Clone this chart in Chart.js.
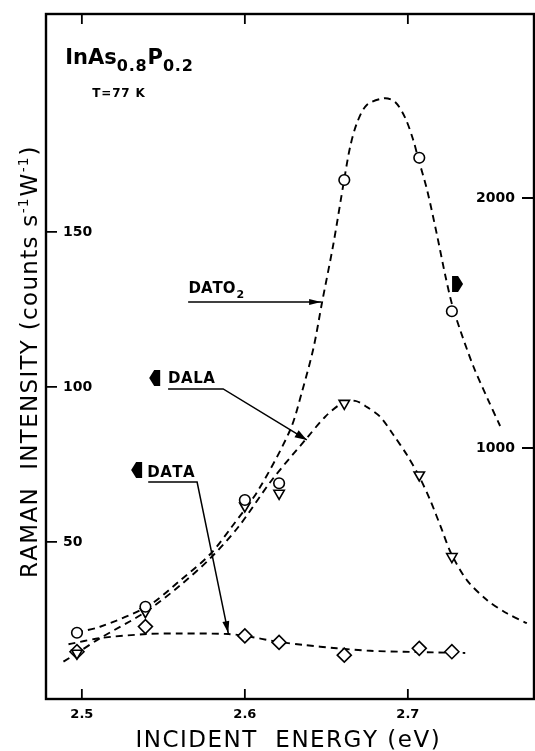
<!DOCTYPE html>
<html>
<head>
<meta charset="utf-8">
<title>InAs0.8P0.2 Raman intensity vs incident energy</title>
<script src="https://cdn.jsdelivr.net/npm/chart.js@4.4.1/dist/chart.umd.min.js"></script>
<style>
  html, body { margin: 0; padding: 0; background: #fff; }
  canvas { display: block; }
</style>
</head>
<body>
<canvas id="ramanChart" width="535" height="751"></canvas>
<script>
/*---- measured points : incident energy (eV) ----*/
var energy   = [2.497, 2.539, 2.600, 2.621, 2.661, 2.707, 2.727];
var dato2Pts = [261, 365, 792, 859, 2072, 2161, 1547];      // right axis
var dalaPts  = [14.1, 27.5, 61.6, 65.7, 94.7, 71.6, 45.3];  // left axis
var dataPts  = [14.6, 22.7, 19.7, 17.6, 13.5, 15.7, 14.6];  // left axis

/*---- hand drawn fit curves ----*/
var dato2FitE = [2.4965, 2.5112, 2.5399, 2.5603, 2.5787, 2.5920, 2.6083, 2.6278, 2.6350, 2.6421, 2.6474, 2.6542, 2.6609, 2.6646, 2.6687, 2.6748, 2.6856, 2.6922, 2.6984, 2.7033, 2.7063, 2.7118, 2.7180, 2.7229, 2.7272, 2.7321, 2.7401, 2.7487, 2.7566];
var dato2FitV = [262, 285, 365, 470, 575, 685, 832, 1072, 1224, 1400, 1584, 1812, 2072, 2205, 2299, 2372, 2399, 2384, 2320, 2232, 2160, 2032, 1848, 1692, 1572, 1472, 1328, 1200, 1088];
var dalaFitE = [2.4887, 2.4969, 2.5113, 2.5393, 2.5603, 2.5787, 2.5961, 2.6166, 2.6380, 2.6493, 2.6595, 2.6677, 2.6750, 2.6830, 2.6912, 2.6994, 2.7065, 2.7137, 2.7209, 2.7264, 2.7362, 2.7485, 2.7607, 2.7730];
var dalaFitV = [11.4, 14.1, 19.0, 27.5, 36.0, 44.7, 54.9, 70.0, 83.5, 90.4, 94.7, 95.5, 93.5, 90.4, 84.5, 78.1, 71.6, 63.5, 53.9, 46.5, 37.7, 31.3, 27.0, 23.8];
var dataFitE = [2.4918, 2.5112, 2.5399, 2.5603, 2.5898, 2.6000, 2.6206, 2.6360, 2.6564, 2.6769, 2.6973, 2.7157, 2.7352];
var dataFitV = [17.0, 19.0, 20.3, 20.5, 20.3, 19.7, 17.8, 16.8, 15.7, 14.9, 14.6, 14.4, 14.2];

/*---- tick labels ----*/
var xTicks  = [2.5, 2.6, 2.7];
var yTicks  = [50, 100, 150];
var y2Ticks = [1000, 2000];

var FONT = '"DejaVu Sans", "Liberation Sans", sans-serif';
Chart.defaults.font.family = FONT;
Chart.defaults.color = '#000';

function pairs(xs, ys) {
    return xs.map(function(x, i) { return {x: x, y: ys[i]}; });
}

/*---- draws a string letter by letter with extra spacing, returns end x ----*/
function spaced(ctx, str, x, y, gap) {
    for (var i = 0; i < str.length; i++) {
        ctx.fillText(str[i], x, y);
        x += ctx.measureText(str[i]).width + gap;
    }
    return x;
}
function spacedWidth(ctx, str, gap) {
    var w = 0;
    for (var i = 0; i < str.length; i++)
        w += ctx.measureText(str[i]).width + gap;
    return w - gap;
}

function arrowHead(ctx, x0, y0, x1, y1, len, half) {
    var a = Math.atan2(y1 - y0, x1 - x0);
    ctx.beginPath();
    ctx.moveTo(x1, y1);
    ctx.lineTo(x1 - len * Math.cos(a) + half * Math.sin(a), y1 - len * Math.sin(a) - half * Math.cos(a));
    ctx.lineTo(x1 - len * Math.cos(a) - half * Math.sin(a), y1 - len * Math.sin(a) + half * Math.cos(a));
    ctx.closePath();
    ctx.fill();
}

function polyArrow(ctx, pts, len, half) {
    ctx.beginPath();
    ctx.moveTo(pts[0][0], pts[0][1]);
    for (var i = 1; i < pts.length; i++) ctx.lineTo(pts[i][0], pts[i][1]);
    ctx.stroke();
    var n = pts.length;
    arrowHead(ctx, pts[n - 2][0], pts[n - 2][1], pts[n - 1][0], pts[n - 1][1], len, half);
}

/*---- the fat black pointer that says which axis a curve belongs to ----*/
function pointer(ctx, cx, cy, dir) {
    ctx.beginPath();
    ctx.moveTo(cx + dir * 6, cy);
    ctx.lineTo(cx + dir * 1, cy - 8);
    ctx.lineTo(cx - dir * 5, cy - 8);
    ctx.lineTo(cx - dir * 5, cy + 8);
    ctx.lineTo(cx + dir * 1, cy + 8);
    ctx.closePath();
    ctx.fill();
}

/*---- frame, inward ticks, titles and labels ----*/
var decorations = {
    id: 'decorations',
    afterDraw: function(chart) {
        var ctx = chart.ctx, a = chart.chartArea;
        var sx = chart.scales.x, sy = chart.scales.y, sy2 = chart.scales.y2;
        function P(e, v) { return [sx.getPixelForValue(e), sy.getPixelForValue(v)]; }

        ctx.save();
        ctx.strokeStyle = '#000';
        ctx.fillStyle = '#000';

        // frame
        ctx.lineWidth = 2.4;
        ctx.strokeRect(a.left, a.top, a.right - a.left - 1, a.bottom - a.top);

        // ticks pointing into the plot
        ctx.lineWidth = 1.8;
        ctx.beginPath();
        xTicks.forEach(function(v) {
            var px = sx.getPixelForValue(v);
            ctx.moveTo(px, a.bottom); ctx.lineTo(px, a.bottom - 10);
            ctx.moveTo(px, a.top);    ctx.lineTo(px, a.top + 10);
        });
        yTicks.forEach(function(v) {
            var py = sy.getPixelForValue(v);
            ctx.moveTo(a.left, py); ctx.lineTo(a.left + 11, py);
        });
        y2Ticks.forEach(function(v) {
            var py = sy2.getPixelForValue(v);
            ctx.moveTo(a.right, py); ctx.lineTo(a.right - 13, py);
        });
        ctx.stroke();

        // right axis labels, inside the frame
        ctx.font = 'bold 14px ' + FONT;
        ctx.textAlign = 'right';
        ctx.textBaseline = 'middle';
        y2Ticks.forEach(function(v) {
            ctx.fillText(String(v), a.right - 20, sy2.getPixelForValue(v));
        });

        ctx.textAlign = 'left';
        ctx.textBaseline = 'alphabetic';

        // x title
        ctx.font = '23px ' + FONT;
        var xt = 'INCIDENT  ENERGY (eV)';
        spaced(ctx, xt, (a.left + a.right) / 2 - 3 - spacedWidth(ctx, xt, 1.5) / 2, 747, 1.5);

        // y title, rotated
        ctx.save();
        ctx.translate(37, 578);
        ctx.rotate(-Math.PI / 2);
        ctx.font = '23px ' + FONT;
        var cx = spaced(ctx, 'RAMAN  INTENSITY (counts s', 0, 0, 1.3);
        ctx.font = '14px ' + FONT;
        cx = spaced(ctx, '-1', cx, -9, 1);
        ctx.font = '23px ' + FONT;
        cx = spaced(ctx, 'W', cx + 1, 0, 1.3);
        ctx.font = '14px ' + FONT;
        cx = spaced(ctx, '-1', cx, -9, 1);
        ctx.font = '23px ' + FONT;
        spaced(ctx, ')', cx + 1, 0, 1.3);
        ctx.restore();

        // sample name and temperature
        var p = P(2.4898, 204.2);
        ctx.font = 'bold 21px ' + FONT;
        cx = spaced(ctx, 'InAs', p[0], p[1], 0);
        ctx.font = 'bold 16px ' + FONT;
        cx = spaced(ctx, '0.8', cx, p[1] + 7, 0.8);
        ctx.font = 'bold 21px ' + FONT;
        cx = spaced(ctx, 'P', cx, p[1], 0);
        ctx.font = 'bold 16px ' + FONT;
        spaced(ctx, '0.2', cx, p[1] + 7, 0.8);
        p = P(2.5064, 193.5);
        ctx.font = 'bold 12px ' + FONT;
        spaced(ctx, 'T=77 K', p[0], p[1], 0.8);

        // curve labels
        ctx.font = 'bold 15px ' + FONT;
        p = P(2.5654, 130.4);
        cx = spaced(ctx, 'DATO', p[0], p[1], 0);
        ctx.font = 'bold 11px ' + FONT;
        spaced(ctx, '2', cx + 1, p[1] + 5, 0);
        ctx.font = 'bold 15px ' + FONT;
        p = P(2.5529, 101.3);
        spaced(ctx, 'DALA', p[0], p[1], 0.5);
        p = P(2.5401, 71.0);
        spaced(ctx, 'DATA', p[0], p[1], 0.5);

        // leader lines
        ctx.lineWidth = 1.5;
        polyArrow(ctx, [P(2.5652, 127.4), P(2.6468, 127.4)], 12, 3);
        polyArrow(ctx, [P(2.5529, 99.35), P(2.5867, 99.35), P(2.6380, 82.9)], 12, 4);
        polyArrow(ctx, [P(2.5407, 69.35), P(2.5707, 69.35), P(2.5898, 20.6)], 12, 3.5);

        // axis pointers
        p = P(2.5450, 102.9); pointer(ctx, p[0], p[1], -1);
        p = P(2.5339, 73.2);  pointer(ctx, p[0], p[1], -1);
        p = P(2.7302, 133.2); pointer(ctx, p[0], p[1], 1);

        ctx.restore();
    }
};

var markerBase = {
    showLine: false,
    borderColor: '#000',
    backgroundColor: '#fff',
    pointBorderWidth: 1.6
};
var fitBase = {
    showLine: true,
    pointRadius: 0,
    borderColor: '#000',
    borderWidth: 1.9,
    borderDash: [7, 5],
    tension: 0.3,
    fill: false
};

var ctx = document.getElementById('ramanChart').getContext('2d');
var ramanChart = new Chart(ctx, {
    type: 'scatter',
    data: {
        datasets: [
            Object.assign({}, markerBase, {label: 'DATO2', yAxisID: 'y2', data: pairs(energy, dato2Pts),
                pointStyle: 'circle', pointRadius: 5.3}),
            Object.assign({}, markerBase, {label: 'DALA', yAxisID: 'y', data: pairs(energy, dalaPts),
                pointStyle: 'triangle', pointRotation: 180, pointRadius: 6}),
            Object.assign({}, markerBase, {label: 'DATA', yAxisID: 'y', data: pairs(energy, dataPts),
                pointStyle: 'rectRot', pointRadius: 7}),
            Object.assign({}, fitBase, {label: 'DATO2 fit', yAxisID: 'y2', data: pairs(dato2FitE, dato2FitV)}),
            Object.assign({}, fitBase, {label: 'DALA fit', yAxisID: 'y', data: pairs(dalaFitE, dalaFitV)}),
            Object.assign({}, fitBase, {label: 'DATA fit', yAxisID: 'y', data: pairs(dataFitE, dataFitV)})
        ]
    },
    options: {
        responsive: false,
        animation: false,
        events: [],
        layout: { autoPadding: false, padding: { left: 46, top: 14, right: 0, bottom: 0 } },
        plugins: {
            legend: { display: false },
            tooltip: { enabled: false }
        },
        scales: {
            x: {
                type: 'linear', position: 'bottom', min: 2.478, max: 2.778,
                afterBuildTicks: function(s) { s.ticks = xTicks.map(function(v) { return {value: v}; }); },
                afterFit: function(s) { s.height = 52; s.paddingLeft = 0; s.paddingRight = 0; },
                ticks: { padding: 8, color: '#000', font: { size: 13, weight: 'bold' },
                         callback: function(v) { return v.toFixed(1); } },
                grid: { display: false, drawTicks: false },
                border: { display: false }
            },
            y: {
                type: 'linear', position: 'left', min: -0.65, max: 220.3,
                afterBuildTicks: function(s) { s.ticks = yTicks.map(function(v) { return {value: v}; }); },
                afterFit: function(s) { s.width = 0; s.paddingTop = 0; s.paddingBottom = 0; },
                ticks: { mirror: true, padding: 17, color: '#000', font: { size: 14, weight: 'bold' } },
                grid: { display: false, drawTicks: false },
                border: { display: false }
            },
            y2: {
                type: 'linear', position: 'right', min: -4, max: 2736,
                afterBuildTicks: function(s) { s.ticks = y2Ticks.map(function(v) { return {value: v}; }); },
                afterFit: function(s) { s.width = 0; s.paddingTop = 0; s.paddingBottom = 0; },
                ticks: { display: false },
                grid: { display: false, drawTicks: false },
                border: { display: false }
            }
        }
    },
    plugins: [decorations]
});
</script>
</body>
</html>
